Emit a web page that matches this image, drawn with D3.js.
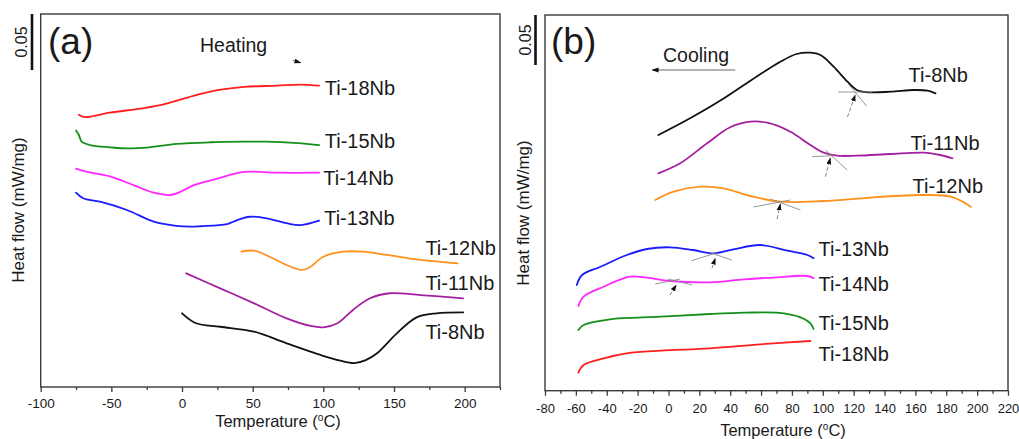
<!DOCTYPE html>
<html>
<head>
<meta charset="utf-8">
<script src="https://cdn.jsdelivr.net/npm/d3@7"></script>
<style>
  html, body { margin: 0; padding: 0; background: #fff; }
  svg { display: block; }
  text { font-family: "Liberation Sans", Arial, Helvetica, sans-serif; fill: #1a1a1a; }
</style>
</head>
<body>
<svg id="chart" width="1019" height="439"></svg>
<script>
// ---- DSC traces: [temperature (°C), heat flow (mW/mg, stacked offset)] ----
// Heating runs
const heat18Nb = [[-73,0.243],[-69,0.241],[-51,0.245],[-27,0.249],[-11,0.253],[8,0.260],[25,0.265],[44,0.268],[67,0.269],[84,0.270],[97,0.269]];
const heat15Nb = [[-75,0.229],[-73,0.225],[-71,0.219],[-65,0.216],[-51,0.214],[-39,0.213],[-23,0.214],[-4,0.217],[20,0.2185],[44,0.219],[60,0.219],[79,0.218],[97,0.216]];
const heat14Nb = [[-75,0.195],[-67,0.192],[-51,0.188],[-34,0.180],[-20,0.1735],[-8,0.1714],[-1,0.1744],[8,0.180],[25,0.186],[44,0.192],[67,0.1913],[97,0.1913]];
const heat13Nb = [[-75,0.1735],[-70,0.1685],[-58,0.1654],[-39,0.158],[-20,0.1476],[-4,0.1438],[6,0.1431],[13,0.1435],[32,0.1455],[39,0.149],[48,0.152],[60,0.1506],[74,0.1462],[84,0.1446],[97,0.1485]];
const heat12Nb = [[42,0.1208],[51,0.1217],[62,0.1163],[74,0.1089],[85,0.1045],[91,0.1074],[100,0.1163],[114,0.1208],[128,0.1208],[145,0.1179],[169,0.1134],[195,0.1104]];
const heat11Nb = [[3,0.1015],[27,0.0881],[51,0.0747],[74,0.0613],[91,0.0545],[100,0.0533],[110,0.0569],[121,0.0688],[133,0.0792],[147,0.0837],[169,0.0821],[199,0.0792]];
const heat8Nb  = [[0,0.0658],[10,0.0569],[27,0.0538],[51,0.0494],[74,0.039],[98,0.0286],[112,0.0235],[122,0.0214],[130,0.024],[138,0.0301],[152,0.0479],[166,0.0622],[180,0.0658],[199,0.0667]];

// Cooling runs
const cool8Nb  = [[-6.5,0.2557],[14,0.2724],[36,0.2924],[57,0.314],[72.5,0.329],[83,0.3367],[92,0.338],[98.5,0.3357],[107,0.324],[116,0.309],[122,0.3007],[129,0.2984],[144,0.299],[159,0.3007],[168,0.300],[173,0.2974]];
const cool11Nb = [[-6.5,0.2174],[7.6,0.2274],[25,0.2474],[40,0.2634],[53,0.269],[64,0.268],[79,0.259],[92,0.2457],[100.6,0.238],[109,0.235],[122,0.235],[144,0.2367],[165.5,0.238],[176,0.2357],[184,0.2324]];
const cool12Nb = [[-8.6,0.1907],[3.3,0.199],[20.6,0.204],[35.7,0.2024],[53,0.1947],[72.5,0.189],[100.6,0.1897],[133,0.1934],[165.5,0.1957],[183,0.194],[196,0.184]];
const cool13Nb = [[-59.4,0.1057],[-56,0.1157],[-44,0.124],[-27,0.1357],[-14,0.1417],[1,0.1434],[16,0.1407],[29,0.1374],[42,0.1414],[59.5,0.1457],[77,0.140],[90,0.1357],[94,0.1324]];
const cool14Nb = [[-58.4,0.0847],[-55,0.094],[-42,0.104],[-25,0.114],[-14,0.113],[1,0.1097],[27,0.1084],[49,0.1114],[70,0.1134],[90,0.1147],[94,0.1124]];
const cool15Nb = [[-58.4,0.0607],[-55,0.0657],[-38,0.0714],[-5,0.074],[27,0.0767],[49,0.078],[70,0.078],[85.5,0.0734],[92,0.0674],[94,0.0617]];
const cool18Nb = [[-58.4,0.018],[-55,0.0257],[-42,0.0324],[-27,0.0374],[-5,0.040],[27,0.0424],[59.5,0.0464],[92,0.0497]];

// Alloy names and where their labels sit (temperature, heat flow)
const heatingAlloys = ["Ti-18Nb","Ti-15Nb","Ti-14Nb","Ti-13Nb","Ti-12Nb","Ti-11Nb","Ti-8Nb"];
const heatingLabelPos = [[101,0.267],[101,0.2196],[100,0.1866],[100.6,0.1509],[172.2,0.1241],[172.2,0.0929],[172.2,0.0491]];
const coolingAlloys = ["Ti-8Nb","Ti-11Nb","Ti-12Nb","Ti-13Nb","Ti-14Nb","Ti-15Nb","Ti-18Nb"];
const coolingLabelPos = [[155.6,0.3157],[156.9,0.2477],[158.2,0.2047],[97.2,0.1417],[97.2,0.1067],[97.2,0.0677],[97.2,0.0367]];

// Martensite-start onset constructions on the cooling curves (tangent pairs + pointer arrows)
const onsetTangents = [
  [[116.6,0.3067],[128.3,0.2847]], [[110,0.2987],[132,0.2987]],
  [[101.7,0.2407],[115.8,0.2207]], [[93,0.234],[107,0.235]],
  [[55,0.1837],[79,0.1907]], [[66,0.1917],[85.5,0.1807]],
  [[15,0.130],[31.4,0.138]], [[27,0.138],[41,0.1307]],
  [[-8.6,0.1067],[7.6,0.1117]], [[-0.2,0.1117],[15.4,0.1057]]
];
const onsetArrows = [
  [[116,0.2737],[121,0.2957]],
  [[101.7,0.214],[104.9,0.2327]],
  [[70.4,0.1717],[72.5,0.1867]],
  [[28.2,0.1224],[30.3,0.1324]],
  [[1,0.0957],[5,0.1057]]
];

// Axis ticks
const heatMajorTicks = d3.range(-100, 201, 50);
const heatMinorTicks = d3.range(-75, 226, 50);
const coolMajorTicks = d3.range(-80, 221, 20);
const coolMinorTicks = d3.range(-70, 211, 20);
const scaleBarValue = 0.05;

const alloyColor = {
  "Ti-18Nb": "#ff1f1f",
  "Ti-15Nb": "#14901a",
  "Ti-14Nb": "#ff26ff",
  "Ti-13Nb": "#1c1cff",
  "Ti-12Nb": "#ff911c",
  "Ti-11Nb": "#a4209f",
  "Ti-8Nb":  "#111111"
};

const heatingData = [heat18Nb, heat15Nb, heat14Nb, heat13Nb, heat12Nb, heat11Nb, heat8Nb];
const coolingData = [cool8Nb, cool11Nb, cool12Nb, cool13Nb, cool14Nb, cool15Nb, cool18Nb];

const svg = d3.select("#chart");

const defs = svg.append("defs");
defs.append("marker").attr("id", "headBlack")
  .attr("viewBox", "0 0 10 10").attr("refX", 9).attr("refY", 5)
  .attr("markerWidth", 7).attr("markerHeight", 7).attr("markerUnits", "userSpaceOnUse")
  .attr("orient", "auto")
  .append("path").attr("d", "M0,1.5 L10,5 L0,8.5 Z").attr("fill", "#111");

function drawPanel(cfg) {
  const x = d3.scaleLinear().domain(cfg.xDomain).range([cfg.left, cfg.right]);
  const y = d3.scaleLinear().domain(cfg.yDomain).range([cfg.bottom, cfg.top]);
  const g = svg.append("g");

  // Frame
  g.append("rect")
    .attr("x", cfg.left).attr("y", cfg.top)
    .attr("width", cfg.right - cfg.left).attr("height", cfg.bottom - cfg.top)
    .attr("fill", "none").attr("stroke", "#3a3a3a").attr("stroke-width", 1.4);

  // Bottom axis: labelled major ticks and short minor ticks (plain hyphen minus)
  const major = g.append("g").attr("transform", `translate(0,${cfg.bottom})`)
    .call(d3.axisBottom(x).tickValues(cfg.major).tickSize(5).tickPadding(cfg.tickPad).tickFormat(d => String(d)));
  major.select(".domain").remove();
  major.selectAll("line").attr("stroke", "#3a3a3a").attr("stroke-width", 1.3);
  major.selectAll("text").attr("font-size", cfg.tickFont).attr("fill", "#2a2a2a")
    .style("font-family", '"Liberation Sans", Arial, sans-serif');
  const minor = g.append("g").attr("transform", `translate(0,${cfg.bottom})`)
    .call(d3.axisBottom(x).tickValues(cfg.minor).tickSize(3).tickFormat(""));
  minor.select(".domain").remove();
  minor.selectAll("line").attr("stroke", "#3a3a3a").attr("stroke-width", 1.3);

  // Axis titles
  const xt = g.append("text")
    .attr("x", cfg.xTitleX).attr("y", cfg.xTitleY)
    .attr("text-anchor", "middle").attr("font-size", 16.5);
  xt.append("tspan").text("Temperature (");
  xt.append("tspan").attr("font-size", 10).attr("dy", -6).text("o");
  xt.append("tspan").attr("dy", 6).text("C)");

  g.append("text")
    .attr("transform", `translate(${cfg.yTitleX},${cfg.yTitleY}) rotate(-90)`)
    .attr("text-anchor", "middle").attr("font-size", 17)
    .text("Heat flow (mW/mg)");

  // 0.05 mW/mg scale bar
  const yTop = cfg.yDomain[1];
  g.append("line")
    .attr("x1", cfg.barX).attr("x2", cfg.barX)
    .attr("y1", y(yTop)).attr("y2", y(yTop - scaleBarValue))
    .attr("stroke", "#111").attr("stroke-width", 2.6);
  g.append("text")
    .attr("transform", `translate(${cfg.barX - 5},${(y(yTop) + y(yTop - scaleBarValue)) / 2}) rotate(-90)`)
    .attr("text-anchor", "middle").attr("font-size", 16)
    .text("0.05");

  // Panel letter
  g.append("text").attr("x", cfg.letterX).attr("y", 54)
    .attr("font-size", 37).text(cfg.letter);

  // Traces
  const line = d3.line()
    .x(d => x(d[0])).y(d => y(d[1]))
    .curve(d3.curveCatmullRom.alpha(0.5));
  cfg.names.forEach((name, i) => {
    g.append("path")
      .datum(cfg.data[i])
      .attr("d", line)
      .attr("fill", "none")
      .attr("stroke", alloyColor[name])
      .attr("stroke-width", 1.8)
      .attr("stroke-linejoin", "round")
      .attr("stroke-linecap", "round");
    g.append("text")
      .attr("x", x(cfg.labelPos[i][0])).attr("y", y(cfg.labelPos[i][1]))
      .attr("dy", "0.36em").attr("font-size", 20)
      .text(name);
  });

  return { g, x, y };
}

// (a) heating
const pa = drawPanel({
  left: 40.7, right: 500, top: 14, bottom: 387,
  xDomain: [-100, 225], yDomain: [0, 0.333],
  major: heatMajorTicks, minor: heatMinorTicks, tickPad: 6.5, tickFont: 13.5,
  xTitleX: 278, xTitleY: 427, yTitleX: 24, yTitleY: 210,
  barX: 32, letter: "(a)", letterX: 48,
  names: heatingAlloys, data: heatingData, labelPos: heatingLabelPos
});
pa.g.append("text").attr("x", 200).attr("y", 52).attr("font-size", 19.5).text("Heating");
// small heading pointer to the right
const headA = [[78.5, 0.2915], [84, 0.2895]];
pa.g.append("line")
  .attr("x1", pa.x(headA[0][0])).attr("y1", pa.y(headA[0][1]))
  .attr("x2", pa.x(headA[1][0])).attr("y2", pa.y(headA[1][1]))
  .attr("stroke", "#111").attr("stroke-width", 0.8)
  .attr("marker-end", "url(#headBlack)");

// (b) cooling
const pb = drawPanel({
  left: 545, right: 1008, top: 15, bottom: 390.7,
  xDomain: [-80, 220], yDomain: [0, 0.3757],
  major: coolMajorTicks, minor: coolMinorTicks, tickPad: 8.5, tickFont: 13,
  xTitleX: 783, xTitleY: 436, yTitleX: 529, yTitleY: 213,
  barX: 535.5, letter: "(b)", letterX: 551,
  names: coolingAlloys, data: coolingData, labelPos: coolingLabelPos
});
pb.g.append("text").attr("x", 663).attr("y", 61.5).attr("font-size", 19.5).text("Cooling");
const coolArrow = [[43.3, 0.3207], [-10.5, 0.3207]];
pb.g.append("line")
  .attr("x1", pb.x(coolArrow[0][0])).attr("y1", pb.y(coolArrow[0][1]))
  .attr("x2", pb.x(coolArrow[1][0])).attr("y2", pb.y(coolArrow[1][1]))
  .attr("stroke", "#666").attr("stroke-width", 1)
  .attr("marker-end", "url(#headBlack)");

// Onset tangent constructions
pb.g.selectAll(".tangent").data(onsetTangents).enter().append("line")
  .attr("x1", d => pb.x(d[0][0])).attr("y1", d => pb.y(d[0][1]))
  .attr("x2", d => pb.x(d[1][0])).attr("y2", d => pb.y(d[1][1]))
  .attr("stroke", "#8a8a8a").attr("stroke-width", 0.9);
pb.g.selectAll(".pointer").data(onsetArrows).enter().append("line")
  .attr("x1", d => pb.x(d[0][0])).attr("y1", d => pb.y(d[0][1]))
  .attr("x2", d => pb.x(d[1][0])).attr("y2", d => pb.y(d[1][1]))
  .attr("stroke", "#777").attr("stroke-width", 0.9)
  .attr("stroke-dasharray", "4,2")
  .attr("marker-end", "url(#headBlack)");
</script>
</body>
</html>
